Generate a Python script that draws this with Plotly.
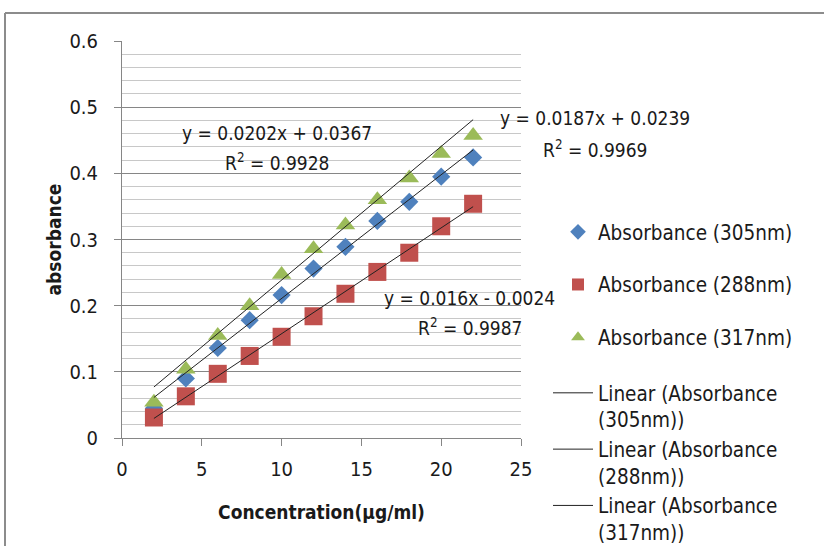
import plotly.graph_objects as go

# ---- data ----
conc = [2, 4, 6, 8, 10, 12, 14, 16, 18, 20, 22]
abs_305 = [0.045, 0.090, 0.136, 0.178, 0.216, 0.256, 0.289, 0.328, 0.357, 0.395, 0.424]
abs_288 = [0.031, 0.063, 0.097, 0.124, 0.153, 0.184, 0.218, 0.251, 0.280, 0.320, 0.354]
abs_317 = [0.054, 0.104, 0.155, 0.200, 0.247, 0.286, 0.322, 0.360, 0.393, 0.430, 0.457]

series_names = ["Absorbance (305nm)", "Absorbance (288nm)", "Absorbance (317nm)"]
trend_names = ["Linear (Absorbance<br>(305nm))", "Linear (Absorbance<br>(288nm))",
               "Linear (Absorbance<br>(317nm))"]
slopes = [0.0187, 0.016, 0.0202]
intercepts = [0.0239, -0.0024, 0.0367]
eq_texts = ["y = 0.0187x + 0.0239", "y = 0.016x - 0.0024", "y = 0.0202x + 0.0367"]
r2_texts = ["R<sup>2</sup> = 0.9969", "R<sup>2</sup> = 0.9987", "R<sup>2</sup> = 0.9928"]

y_tickvals = [0, 0.1, 0.2, 0.3, 0.4, 0.5, 0.6]
y_ticktext = ["0", "0.1", "0.2", "0.3", "0.4", "0.5", "0.6"]
x_tickvals = [0, 5, 10, 15, 20, 25]

FONT = "Liberation Sans Narrow, DejaVu Sans Condensed, Roboto, sans-serif"

colors = ["#4F81BD", "#C0504D", "#9BBB59"]
symbols = ["diamond", "square", "triangle-up"]
sizes = [14, 18, 17]

fig = go.Figure()
for name, ys, c, s, sz in zip(series_names, [abs_305, abs_288, abs_317], colors, symbols, sizes):
    fig.add_trace(go.Scatter(x=conc, y=ys, mode="markers", name=name,
                             marker=dict(color=c, symbol=s, size=sz, line=dict(width=0)),
                             legend="legend", legendgroup=name))

x_fit = [min(conc), max(conc)]
for name, m, b in zip(trend_names, slopes, intercepts):
    fig.add_trace(go.Scatter(x=x_fit, y=[m * xv + b for xv in x_fit], mode="lines", name=name,
                             line=dict(color="#222222", width=1),
                             legend="legend2", legendgroup=name))

# plot area in page pixels (page body margin is removed below)
OFF = 0
L, T, W, H = 122, 41, 399, 397
def px(x):
    return (x - L) / W
def py(y):
    return (T + H - y) / H

# trendline equation labels (page-pixel centres)
eq_pos = [(595, 118), (469, 298), (277, 133)]
r2_pos = [(595, 149), (470, 327), (277, 162)]
for txt, (xp, yp) in zip(eq_texts, eq_pos):
    fig.add_annotation(x=px(xp), y=py(yp), xref="paper", yref="paper", text=txt,
                       showarrow=False, xanchor="center", yanchor="middle",
                       font=dict(family=FONT, size=19, color="#1a1a1a"))
for txt, (xp, yp) in zip(r2_texts, r2_pos):
    fig.add_annotation(x=px(xp), y=py(yp), xref="paper", yref="paper", text=txt,
                       showarrow=False, xanchor="center", yanchor="middle",
                       font=dict(family=FONT, size=19, color="#1a1a1a"))

# chart frame: only its top and left edges fall inside the picture
frame = dict(color="#8c8c8c", width=2)
fig.add_shape(type="line", xref="paper", yref="paper",
              x0=px(5), x1=px(830), y0=py(13), y1=py(13), line=frame, layer="below")
fig.add_shape(type="line", xref="paper", yref="paper",
              x0=px(5), x1=px(5), y0=py(13), y1=py(560), line=frame, layer="below")

fig.update_layout(
    width=824, height=546,
    margin=dict(l=L - OFF, r=824 - (L + W - OFF), t=T - OFF, b=546 - (T + H - OFF),
                autoexpand=False),
    paper_bgcolor="white", plot_bgcolor="white",
    font=dict(family=FONT, size=19, color="#1a1a1a"),
    legend=dict(x=px(558), y=py(212), xanchor="left", yanchor="top",
                font=dict(family=FONT, size=20.5), tracegroupgap=23,
                itemsizing="constant", bgcolor="rgba(0,0,0,0)"),
    legend2=dict(x=px(548), y=py(373), xanchor="left", yanchor="top",
                 font=dict(family=FONT, size=20.5), tracegroupgap=0, valign="top",
                 itemwidth=40, bgcolor="rgba(0,0,0,0)"),
    showlegend=True,
)

fig.update_xaxes(range=[0, 25], tickvals=x_tickvals, showgrid=False, automargin=False,
                 showline=True, linecolor="#868686", linewidth=1,
                 ticks="outside", ticklen=7, tickcolor="#868686",
                 ticklabelstandoff=6, zeroline=False,
                 tickfont=dict(family=FONT, size=20),
                 title=dict(text="<b>Concentration(µg/ml)</b>", standoff=25,
                            font=dict(family=FONT, size=19)))
fig.update_yaxes(range=[0, 0.6], tickvals=y_tickvals, ticktext=y_ticktext,
                 showgrid=True, automargin=False,
                 gridcolor="#868686", gridwidth=1,
                 minor=dict(dtick=0.02, tick0=0, showgrid=True, gridcolor="#C8C8C8", gridwidth=1),
                 showline=True, linecolor="#868686", linewidth=1,
                 ticks="outside", ticklen=7, tickcolor="#868686",
                 ticklabelstandoff=12, zeroline=False,
                 tickfont=dict(family=FONT, size=20),
                 title=dict(text="<b>absorbance</b>", standoff=2,
                            font=dict(family=FONT, size=19)))

fig.write_html("out.html", config={"displayModeBar": False},
               post_script="document.body.style.margin='0';document.body.style.overflow='hidden';")
